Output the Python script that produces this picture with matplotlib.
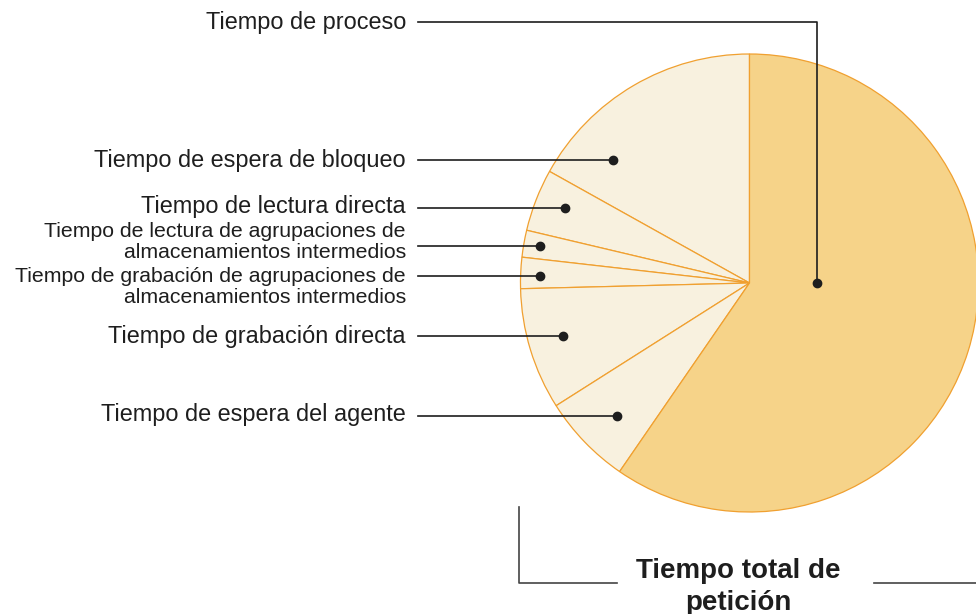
import matplotlib
matplotlib.use("Agg")
import matplotlib.pyplot as plt

# slices, counter-clockwise from the top
labels = ["Tiempo de espera de bloqueo",
          "Tiempo de lectura directa",
          "Tiempo de lectura de agrupaciones de\nalmacenamientos intermedios",
          "Tiempo de grabación de agrupaciones de\nalmacenamientos intermedios",
          "Tiempo de grabación directa",
          "Tiempo de espera del agente",
          "Tiempo de proceso"]
shares = [16.9, 4.4, 1.9, 2.2, 8.6, 6.4, 59.6]
colors = ["#F8F1DF"] * 6 + ["#F6D389"]

# where the leader lines go (pixels, y from top)
label_y = [160, 206, 242, 287, 336, 414, 22]
line_y = [160, 208, 246, 276, 336, 416, 22]
dot_x = [613, 565, 540, 540, 563, 617, 817]
big = [True, True, False, False, True, True, True]

W, H = 976, 614
cx, cy, r = 749.5, 283, 229

fig = plt.figure(figsize=(W / 100, H / 100), dpi=100)
ax = fig.add_axes([0, 0, 1, 1])

ax.pie(shares, startangle=90, counterclock=True, colors=colors,
       center=(cx, H - cy), radius=r,
       wedgeprops=dict(edgecolor="#F0A030", linewidth=0.9))

dark = "#1E1E1E"
for lab, ty, ly, dx, b in zip(labels, label_y, line_y, dot_x, big):
    fs = 16.9 if b else 15.3
    ax.text(406, H - ty, lab, ha="right", va="center", fontsize=fs,
            family="Liberation Sans", color=dark, multialignment="right",
            linespacing=1.08)
    if lab == "Tiempo de proceso":
        ax.plot([418, dx, dx], [H - ly, H - ly, H - 283], color=dark, lw=1.2)
    else:
        ax.plot([418, dx], [H - ly, H - ly], color=dark, lw=1.2)
    ax.plot(dx, H - (283 if lab == "Tiempo de proceso" else ly), "o",
            color=dark, ms=6)

# bracket and title at the bottom
ax.plot([519, 519, 617], [H - 507, H - 583, H - 583], color="#444444", lw=1.2)
ax.plot([874, 976], [H - 583, H - 583], color="#444444", lw=1.2)
ax.text(738, H - 587, "Tiempo total de\npetición", ha="center", va="center",
        fontsize=20, fontweight="bold", family="Liberation Sans",
        color=dark, linespacing=1.3)

ax.set_xlim(0, W)
ax.set_ylim(0, H)
ax.set_aspect("auto")
ax.axis("off")

fig.savefig("out.png", dpi=100)
